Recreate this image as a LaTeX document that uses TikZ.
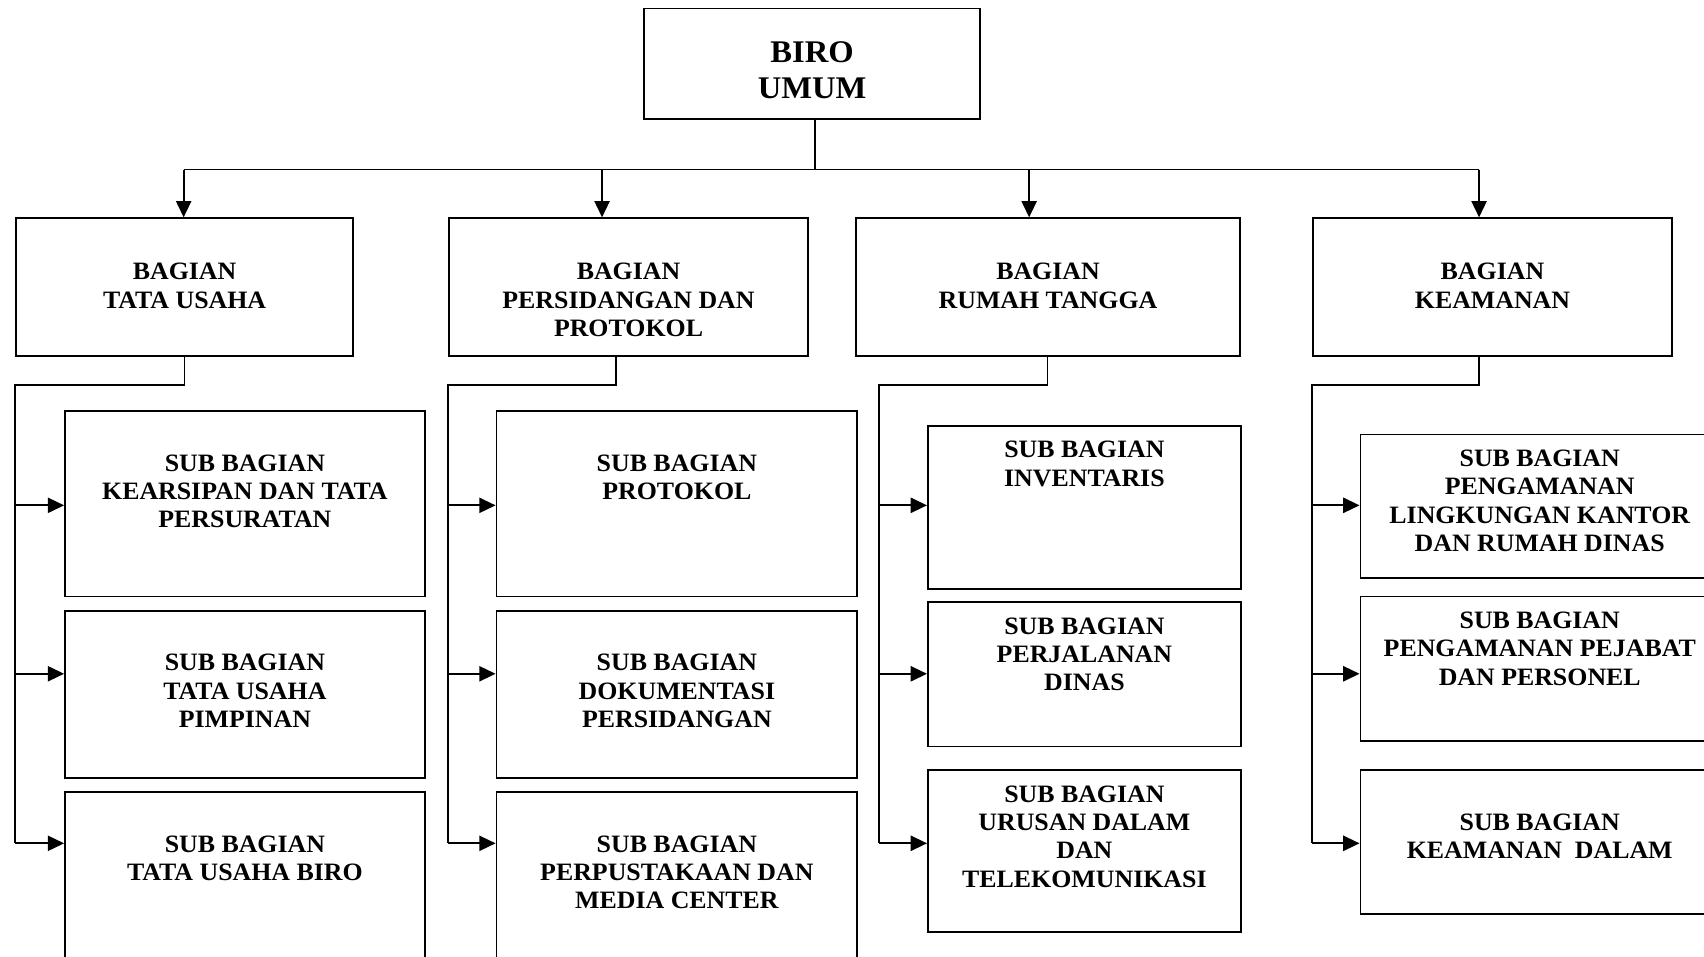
\documentclass[tikz,border=0pt]{standalone}
\usepackage{tikz}
\usepackage{fontspec}
\setmainfont[FakeStretch=1.035]{Liberation Serif}
\usetikzlibrary{positioning, arrows.meta}

\begin{document}
\begin{tikzpicture}[
			x=1pt,
			y=-1pt,
			node distance=2cm,
			unit/.style={
				draw,
				rectangle,
				line width=1.7pt,
				inner sep=0pt,
				anchor=north west
			},
			label/.style={
				align=center,
				inner sep=0pt,
				font=\fontsize{23}{26}\selectfont\bfseries
			},
			toplabel/.style={
				align=center,
				inner sep=0pt,
				font=\fontsize{29}{33}\selectfont\bfseries
			},
			link/.style={
				line width=1.6pt
			},
			arr/.style={
				line width=1.6pt,
				-{Triangle[length=15pt,width=14pt]}
			}
			]
			\useasboundingbox (0,0) rectangle (1568,880);
			\clip (0,0) rectangle (1568,880);
			
			% Head
			\node[unit, minimum width=309, minimum height=102] (biro) at (592,7) {};
			\node[toplabel, below=31pt of biro.north] (biro-t) {BIRO\\UMUM};
			
			% Bagian
			\node[unit, minimum width=310, minimum height=127] (tu) at (14,200) {};
			\node[unit, minimum width=331, minimum height=127] (pp) at (412,200) {};
			\node[unit, minimum width=353, minimum height=127] (rt) at (787,200) {};
			\node[unit, minimum width=331, minimum height=127] (km) at (1207,200) {};
			\node[label, below=42pt of tu.north] (tu-t) {BAGIAN\\TATA USAHA};
			\node[label, below=42pt of pp.north] (pp-t) {BAGIAN\\PERSIDANGAN DAN\\PROTOKOL};
			\node[label, below=42pt of rt.north] (rt-t) {BAGIAN\\RUMAH TANGGA};
			\node[label, below=42pt of km.north] (km-t) {BAGIAN\\KEAMANAN};
			
			% Sub bagian tata usaha
			\node[unit, minimum width=331, minimum height=171] (tu1) at (59,377) {};
			\node[unit, minimum width=331, minimum height=154] (tu2) at (59,561) {};
			\node[unit, minimum width=331, minimum height=180] (tu3) at (59,728) {};
			\node[label, below=41pt of tu1.north] (tu1-t) {SUB BAGIAN\\KEARSIPAN DAN TATA\\PERSURATAN};
			\node[label, below=41pt of tu2.north] (tu2-t) {SUB BAGIAN\\TATA USAHA\\PIMPINAN};
			\node[label, below=41pt of tu3.north] (tu3-t) {SUB BAGIAN\\TATA USAHA BIRO};
			
			% Sub bagian persidangan dan protokol
			\node[unit, minimum width=332, minimum height=171] (pp1) at (456,377) {};
			\node[unit, minimum width=332, minimum height=154] (pp2) at (456,561) {};
			\node[unit, minimum width=332, minimum height=180] (pp3) at (456,728) {};
			\node[label, below=41pt of pp1.north] (pp1-t) {SUB BAGIAN\\PROTOKOL};
			\node[label, below=41pt of pp2.north] (pp2-t) {SUB BAGIAN\\DOKUMENTASI\\PERSIDANGAN};
			\node[label, below=41pt of pp3.north] (pp3-t) {SUB BAGIAN\\PERPUSTAKAAN DAN\\MEDIA CENTER};
			
			% Sub bagian rumah tangga
			\node[unit, minimum width=288, minimum height=150] (rt1) at (853,391) {};
			\node[unit, minimum width=288, minimum height=133] (rt2) at (853,553) {};
			\node[unit, minimum width=288, minimum height=149] (rt3) at (853,708) {};
			\node[label, below=15pt of rt1.north] (rt1-t) {SUB BAGIAN\\INVENTARIS};
			\node[label, below=15pt of rt2.north] (rt2-t) {SUB BAGIAN\\PERJALANAN\\DINAS};
			\node[label, below=15pt of rt3.north] (rt3-t) {SUB BAGIAN\\URUSAN DALAM\\DAN\\TELEKOMUNIKASI};
			
			% Sub bagian keamanan
			\node[unit, minimum width=330, minimum height=132] (km1) at (1251,399) {};
			\node[unit, minimum width=330, minimum height=133] (km2) at (1251,548) {};
			\node[unit, minimum width=330, minimum height=132] (km3) at (1251,708) {};
			\node[label, below=15pt of km1.north] (km1-t) {SUB BAGIAN\\PENGAMANAN\\LINGKUNGAN KANTOR\\DAN RUMAH DINAS};
			\node[label, below=15pt of km2.north] (km2-t) {SUB BAGIAN\\PENGAMANAN PEJABAT\\DAN PERSONEL};
			\node[label, below=41pt of km3.north] (km3-t) {SUB BAGIAN\\KEAMANAN\ \ DALAM};
			
			% Head to bagian
			\coordinate (hub) at (750,156);
			\coordinate (d1) at (169,156);
			\coordinate (d2) at (554,156);
			\coordinate (d3) at (947,156);
			\coordinate (d4) at (1361,156);
			\draw[link] (hub |- biro.south) -- (hub);
			\draw[link] (d1) -- (d4);
			\draw[arr] (d1) -- (d1 |- tu.north);
			\draw[arr] (d2) -- (d2 |- pp.north);
			\draw[arr] (d3) -- (d3 |- rt.north);
			\draw[arr] (d4) -- (d4 |- km.north);
			
			% Bagian to sub bagian
			\coordinate (c1) at (14,354);
			\coordinate (c2) at (412,354);
			\coordinate (c3) at (809,354);
			\coordinate (c4) at (1207,354);
			\draw[link] (tu.south) |- (c1) -- (14,776);
			\draw[link] (pp.south -| 567,0) |- (c2) -- (412,776);
			\draw[link] (rt.south -| 964,0) |- (c3) -- (809,776);
			\draw[link] (km.south -| 1361,0) |- (c4) -- (1207,776);
			
			\draw[arr] (14,465) -- (tu1.west |- 0,465);
			\draw[arr] (14,620) -- (tu2.west |- 0,620);
			\draw[arr] (14,776) -- (tu3.west |- 0,776);
			\draw[arr] (412,465) -- (pp1.west |- 0,465);
			\draw[arr] (412,620) -- (pp2.west |- 0,620);
			\draw[arr] (412,776) -- (pp3.west |- 0,776);
			\draw[arr] (809,465) -- (rt1.west |- 0,465);
			\draw[arr] (809,620) -- (rt2.west |- 0,620);
			\draw[arr] (809,776) -- (rt3.west |- 0,776);
			\draw[arr] (1207,465) -- (km1.west |- 0,465);
			\draw[arr] (1207,620) -- (km2.west |- 0,620);
			\draw[arr] (1207,776) -- (km3.west |- 0,776);
		\end{tikzpicture}
\end{document}
